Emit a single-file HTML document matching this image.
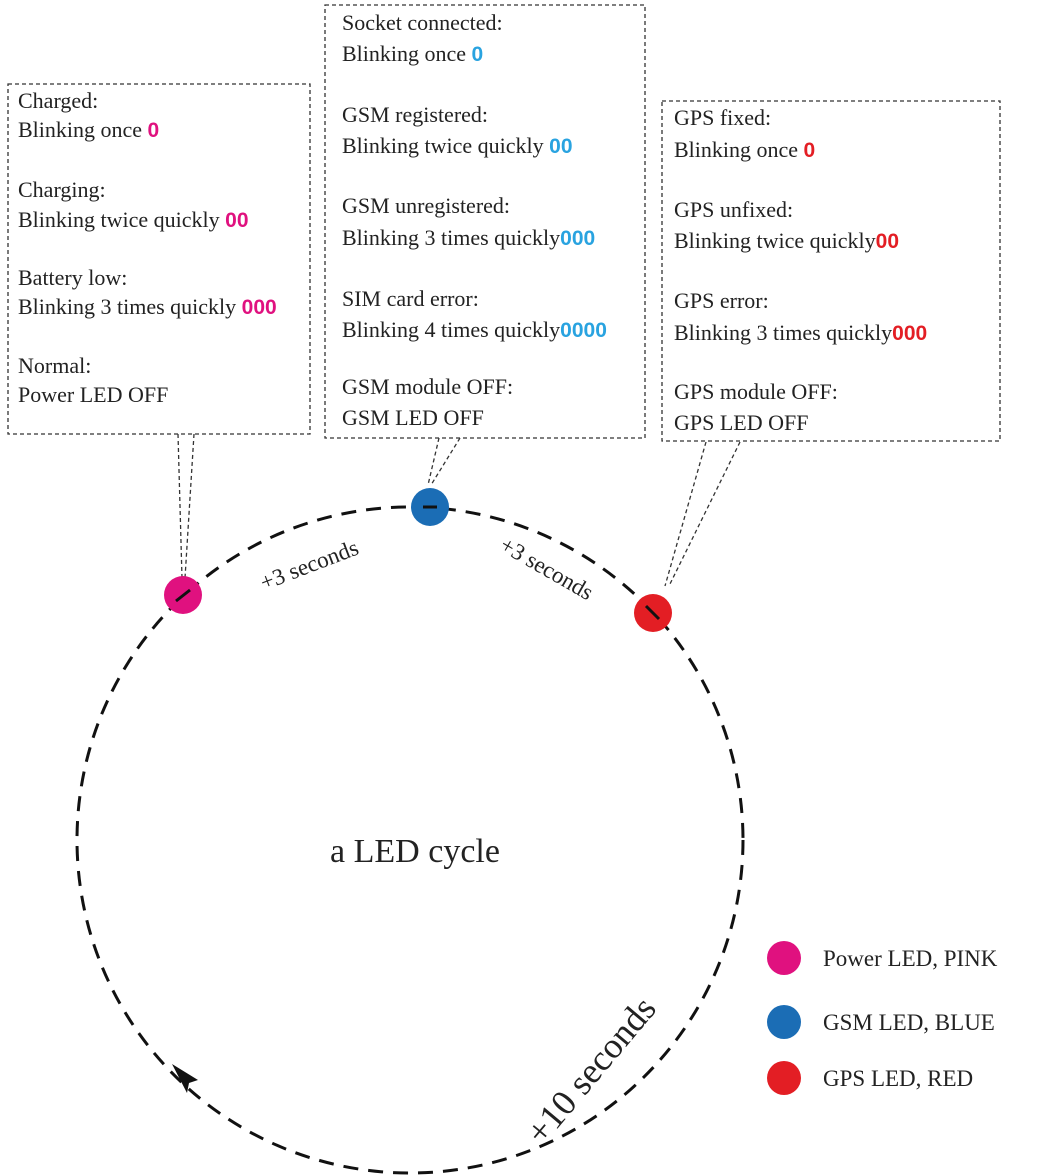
<!DOCTYPE html>
<html><head><meta charset="utf-8"><style>
html,body{margin:0;padding:0;background:#fff;}
svg{display:block;}
text{font-family:"Liberation Serif",serif;fill:#222;}
.t{font-size:22px;}
.z{font-family:"Liberation Sans",sans-serif;font-weight:bold;font-size:21px;}
</style></head><body>
<svg width="1048" height="1176" viewBox="0 0 1048 1176" xmlns="http://www.w3.org/2000/svg">
<g fill="none" stroke="#333" stroke-width="1.3" stroke-dasharray="4,3">
<rect x="8" y="84" width="302" height="350"/>
<rect x="325" y="5" width="320" height="433"/>
<rect x="662" y="101" width="338" height="340"/>
<line x1="178" y1="434" x2="182" y2="578"/>
<line x1="194" y1="434" x2="185" y2="578"/>
<line x1="439" y1="438" x2="428" y2="485"/>
<line x1="460" y1="438" x2="431" y2="485"/>
<line x1="706" y1="442" x2="665" y2="586"/>
<line x1="740" y1="442" x2="669" y2="586"/>
</g>
<circle cx="410" cy="840" r="333" fill="none" stroke="#111" stroke-width="3" stroke-dasharray="15,10"/>
<path d="M172,1064 L198,1080 L189,1083 L187,1093 Z" fill="#111"/>
<circle cx="183" cy="595" r="19" fill="#e0117f"/>
<circle cx="430" cy="507" r="19" fill="#1b6db5"/>
<circle cx="653" cy="613" r="19" fill="#e31e24"/>
<line x1="176" y1="601" x2="190" y2="590" stroke="#111" stroke-width="3"/>
<line x1="423" y1="507" x2="437" y2="507" stroke="#111" stroke-width="3"/>
<line x1="646" y1="606" x2="659" y2="619" stroke="#111" stroke-width="3"/>

<g class="t">
<text x="18" y="108">Charged:</text>
<text x="18" y="137">Blinking once <tspan class="z" fill="#e0117f">0</tspan></text>
<text x="18" y="197">Charging:</text>
<text x="18" y="227">Blinking twice quickly <tspan class="z" fill="#e0117f">00</tspan></text>
<text x="18" y="285">Battery low:</text>
<text x="18" y="314">Blinking 3 times quickly <tspan class="z" fill="#e0117f">000</tspan></text>
<text x="18" y="373">Normal:</text>
<text x="18" y="402">Power LED OFF</text>
</g>
<g class="t">
<text x="342" y="30">Socket connected:</text>
<text x="342" y="61">Blinking once <tspan class="z" fill="#29a3e0">0</tspan></text>
<text x="342" y="122">GSM registered:</text>
<text x="342" y="153">Blinking twice quickly <tspan class="z" fill="#29a3e0">00</tspan></text>
<text x="342" y="213">GSM unregistered:</text>
<text x="342" y="245">Blinking 3 times quickly<tspan class="z" fill="#29a3e0">000</tspan></text>
<text x="342" y="306">SIM card error:</text>
<text x="342" y="337">Blinking 4 times quickly<tspan class="z" fill="#29a3e0">0000</tspan></text>
<text x="342" y="394">GSM module OFF:</text>
<text x="342" y="425">GSM LED OFF</text>
</g>
<g class="t">
<text x="674" y="125">GPS fixed:</text>
<text x="674" y="157">Blinking once <tspan class="z" fill="#e31e24">0</tspan></text>
<text x="674" y="217">GPS unfixed:</text>
<text x="674" y="248">Blinking twice quickly<tspan class="z" fill="#e31e24">00</tspan></text>
<text x="674" y="308">GPS error:</text>
<text x="674" y="340">Blinking 3 times quickly<tspan class="z" fill="#e31e24">000</tspan></text>
<text x="674" y="399">GPS module OFF:</text>
<text x="674" y="430">GPS LED OFF</text>
</g>

<text transform="translate(312,572) rotate(-21)" font-size="23" text-anchor="middle">+3 seconds</text>
<text transform="translate(543,575) rotate(30)" font-size="23" text-anchor="middle">+3 seconds</text>
<text transform="translate(600,1078) rotate(-50)" font-size="36" text-anchor="middle">+10 seconds</text>
<text x="415" y="862" font-size="34" text-anchor="middle">a LED cycle</text>

<circle cx="784" cy="958" r="17" fill="#e0117f"/>
<circle cx="784" cy="1022" r="17" fill="#1b6db5"/>
<circle cx="784" cy="1078" r="17" fill="#e31e24"/>
<text x="823" y="966" font-size="23">Power LED, PINK</text>
<text x="823" y="1030" font-size="23">GSM LED, BLUE</text>
<text x="823" y="1086" font-size="23">GPS LED, RED</text>
</svg>
</body></html>
